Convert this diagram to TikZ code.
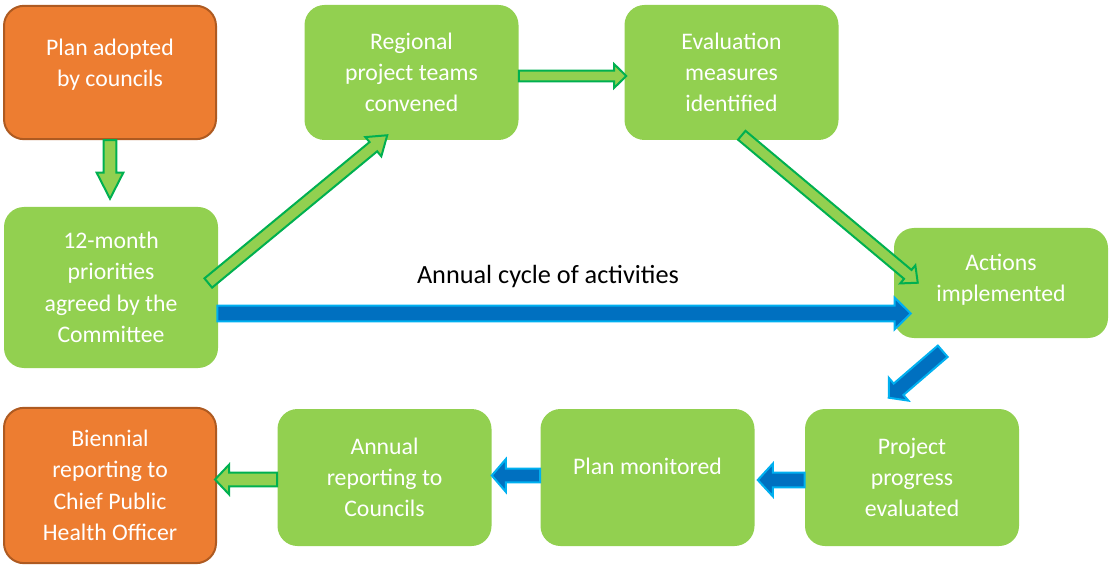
\documentclass[tikz,border=0pt]{standalone}
\usepackage{fontspec}
\setmainfont{Carlito}
\usetikzlibrary{calc}
\definecolor{boxgreen}{HTML}{92D050}
\definecolor{boxorange}{HTML}{ED7D31}
\definecolor{orangeedge}{HTML}{AE5A21}
\definecolor{arrowgreen}{HTML}{00B050}
\definecolor{arrowblue}{HTML}{0070C0}
\definecolor{arrowcyan}{HTML}{00B0F0}
\tikzset{
 box/.style={rounded corners=15pt, minimum width=160.5pt, align=center, text=white,
   font=\fontsize{17.8}{23.5}\selectfont, inner sep=0pt},
 greenbox/.style={box, fill=boxgreen},
 orangebox/.style={box, fill=boxorange, draw=orangeedge, line width=1.5pt, minimum width=159pt},
 garrow/.style={fill=boxgreen, draw=arrowgreen, line width=1.5pt, line join=miter},
 barrow/.style={fill=arrowblue, draw=arrowcyan, line width=1.5pt, line join=miter},
 cyclelabel/.style={font=\fontsize{19.7}{24}\selectfont, text=black},
}
% #1 style, #2 name, #3 tail, #4 tip, #5 shaft half width, #6 head half width, #7 head length (px)
\newcommand\blockarrow[7]{%
 \coordinate (#2-h) at ($(#4)!#7*0.75pt!(#3)$);
 \draw[#1] ($(#3)!#5*0.75pt!90:(#4)$) -- ($(#2-h)!#5*0.75pt!90:(#4)$)
   -- ($(#2-h)!#6*0.75pt!90:(#4)$) -- (#4) -- ($(#2-h)!#6*0.75pt!-90:(#4)$)
   -- ($(#2-h)!#5*0.75pt!-90:(#4)$) -- ($(#3)!#5*0.75pt!-90:(#4)$) -- cycle;}
\begin{document}
\begin{tikzpicture}[x=0.75pt,y=-0.75pt]
\useasboundingbox (0,0) rectangle (1109,566);
% boxes
\node[orangebox, minimum height=100pt, text depth=15pt] (b1) at (110,72.5) {Plan adopted\\by councils};
\node[greenbox, minimum height=120.75pt] (b2) at (111,287.5) {12-month\\priorities\\agreed by the\\Committee};
\node[greenbox, minimum height=101.25pt] (b3) at (411.5,72.5) {Regional\\project teams\\convened};
\node[greenbox, minimum height=101.25pt] (b4) at (731.5,72.5) {Evaluation\\measures\\identified};
\node[greenbox, minimum height=82.5pt, text depth=8pt] (b5) at (1001,283) {Actions\\implemented};
\node[greenbox, minimum height=102.75pt] (b6) at (912,477.5) {Project\\progress\\evaluated};
\node[greenbox, minimum height=102.75pt, text depth=17pt] (b7) at (647.5,477.5) {Plan monitored};
\node[greenbox, minimum height=102.75pt] (b8) at (384.5,477.5) {Annual\\reporting to\\Councils};
\node[orangebox, minimum height=116.5pt] (b9) at (110,485.5) {Biennial\\reporting to\\Chief Public\\Health Officer};
\node[cyclelabel] (lbl) at (548,276) {Annual cycle of activities};
% arrow end points
\coordinate (a1s) at (b1.south);
\coordinate (a1e) at ($(b1.south |- b2.north)+(0,-8)$);
\coordinate (a2s) at ($(b2.east)+(-10,-4.5)$);
\coordinate (a2e) at ($(b3.south west)+(83,-5)$);
\coordinate (a3s) at ($(b3.east)+(0,3.5)$);
\coordinate (a3e) at ($(b4.west)+(2,3.5)$);
\coordinate (a4s) at ($(b4.south east)+(-97,-5)$);
\coordinate (a4e) at ($(b5.north west)+(24,55)$);
\coordinate (a5s) at ($(b2.east)+(-1,26)$);
\coordinate (a5e) at ($(b5.west)+(17,30.5)$);
\coordinate (a6s) at ($(b5.south west)+(49,13)$);
\coordinate (a6e) at ($(b6.north west)+(84,-11)$);
\coordinate (a7s) at ($(b6.west)+(0,2.5)$);
\coordinate (a7e) at ($(b7.east)+(3,2.5)$);
\coordinate (a8s) at ($(b7.west)+(0,-2)$);
\coordinate (a8e) at ($(b8.east)+(0,-2)$);
\coordinate (a9s) at ($(b8.west)+(0,2)$);
\coordinate (a9e) at ($(b9.east)+(-2,-6)$);
% arrows
\blockarrow{garrow}{a1}{a1s}{a1e}{6.3}{13.3}{26}
\blockarrow{garrow}{a2}{a2s}{a2e}{6}{12.5}{18}
\blockarrow{garrow}{a3}{a3s}{a3e}{5.3}{11.8}{12}
\blockarrow{garrow}{a4}{a4s}{a4e}{5.8}{11.8}{13}
\blockarrow{barrow}{a5}{a5s}{a5e}{7.8}{15.8}{16}
\blockarrow{barrow}{a6}{a6s}{a6e}{7.5}{15}{13}
\blockarrow{barrow}{a7}{a7s}{a7e}{7.3}{16.3}{15}
\blockarrow{barrow}{a8}{a8s}{a8e}{6.8}{16.3}{14}
\blockarrow{garrow}{a9}{a9s}{a9e}{6.8}{14.8}{14}
\end{tikzpicture}
\end{document}
